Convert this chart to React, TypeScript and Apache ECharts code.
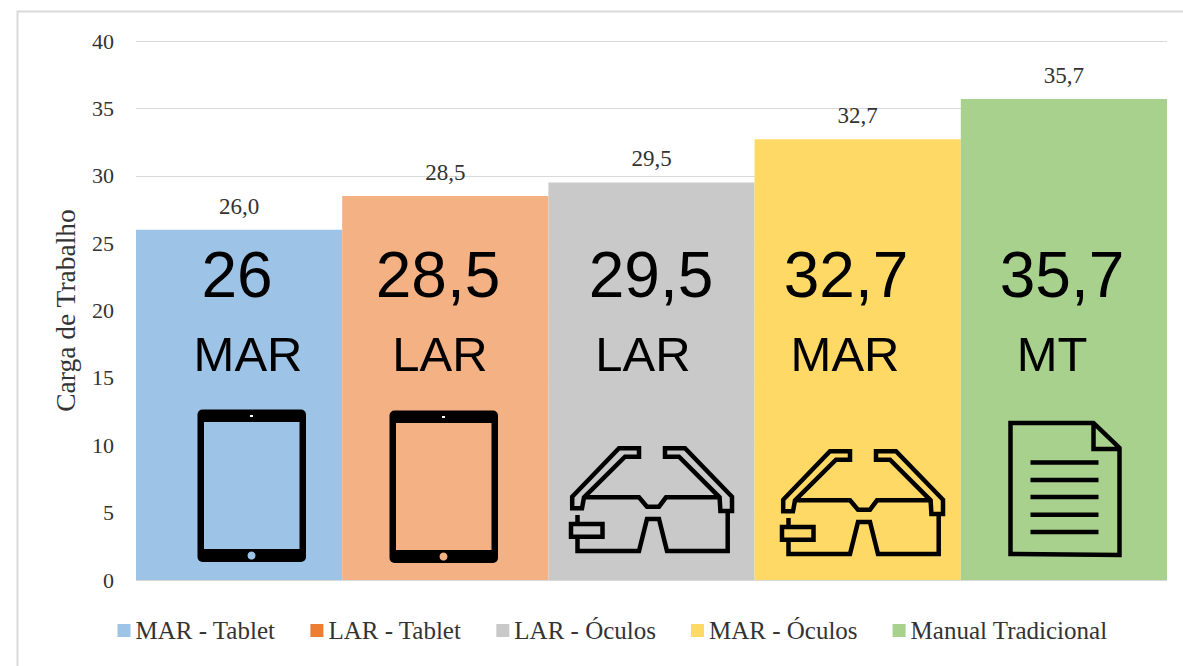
import React, { useEffect, useRef } from "react";
import * as echarts from "echarts";

const seriesNames = ["MAR - Tablet", "LAR - Tablet", "LAR - Óculos", "MAR - Óculos", "Manual Tradicional"];
const values = [26.0, 28.5, 29.5, 32.7, 35.7];
const bigLabels = ["26", "28,5", "29,5", "32,7", "35,7"];
const methodLabels = ["MAR", "LAR", "LAR", "MAR", "MT"];
const barColors = ["#9DC3E6", "#F4B183", "#C9C9C9", "#FFD966", "#A9D18E"];
const legendColors = ["#9DC3E6", "#ED7D31", "#C9C9C9", "#FFD966", "#A9D18E"];
const yTicks = { min: 0, max: 40, interval: 5 };

const GLASSES =
  "M8.5 70 L8.5 79 M8.5 92 L8.5 106 L70 106 L78 74 L90 74 L98 106 L158.7 106 L158.7 66.7 " +
  "M15 52.3 L70 52.3 L78 61.7 L90 61.7 L97 52.3 L150 52.3 " +
  "M3.2 51.7 L50 3.3 L70 3.3 L70 11.7 L56 11.7 L15 52.3 L13 63.3 L3.2 63.3 Z " +
  "M163 51.7 L116 3.3 L96 3.3 L96 11.7 L110 11.7 L150.6 52.3 L151.4 66 L163 66 Z " +
  "M2 79 L33.5 79 L33.5 91.7 L2 91.7 Z";
const DOCUMENT =
  "M0 0 L83 0 L109 25 L109 132 L0 131 Z M83 0 L83 26 L109 26 " +
  "M20 39.5 L88 39.5 M20 57 L88 57 M20 74 L88 74 M20 91.7 L88 91.7 M20 109 L88 109";
echarts.graphic.registerShape("glassesIcon", echarts.graphic.extendPath(GLASSES, {}));
echarts.graphic.registerShape("documentIcon", echarts.graphic.extendPath(DOCUMENT, {}));

const TOP = 100;
const tablet = (x: number, y: number, fill: string) => ({
  type: "group",
  x,
  y,
  silent: true,
  children: [
    { type: "rect", z: TOP, shape: { x: 0, y: 0, width: 108.5, height: 152.5, r: 5 }, style: { fill: "#000" } },
    { type: "rect", z: TOP + 1, shape: { x: 6.5, y: 12.5, width: 95.5, height: 127 }, style: { fill } },
    { type: "circle", z: TOP + 1, shape: { cx: 54, cy: 146, r: 4 }, style: { fill } },
    { type: "rect", z: TOP + 1, shape: { x: 52.5, y: 5.5, width: 3, height: 2 }, style: { fill: "#fff" } },
  ],
});
const stroked = (shape: string, x: number, y: number, lineWidth: number) => ({
  type: shape,
  z: TOP,
  x,
  y,
  silent: true,
  style: { fill: "none", stroke: "#000", lineWidth, lineJoin: "miter" },
});
const bigText = (text: string, x: number, y: number, size: number) => ({
  type: "text",
  z: TOP,
  x,
  y,
  silent: true,
  style: {
    text,
    fill: "#000",
    fontFamily: "Liberation Sans",
    fontSize: size,
    textAlign: "center",
    textVerticalAlign: "middle",
  },
});

export default function App() {
  const ref = useRef<HTMLDivElement>(null);
  useEffect(() => {
    const chart = echarts.init(ref.current!, undefined, { renderer: "svg" });
    const bigX = [237, 438, 651, 846, 1062];
    const methodX = [248, 440, 643, 845, 1052];
    chart.setOption({
      animation: false,
      backgroundColor: "#fff",
      grid: { left: 136, right: 16, top: 41, bottom: 86 },
      legend: {
        left: 112.5,
        top: 613,
        itemWidth: 13,
        itemHeight: 13,
        itemGap: 35,
        icon: "rect",
        data: seriesNames.map((name, i) => ({ name, itemStyle: { color: legendColors[i] } })),
        textStyle: { fontFamily: "Liberation Serif", fontSize: 25, color: "#333333" },
      },
      xAxis: {
        type: "category",
        data: seriesNames,
        axisLabel: { show: false },
        axisTick: { show: false },
        axisLine: { show: false },
      },
      yAxis: {
        type: "value",
        ...yTicks,
        name: "Carga de Trabalho",
        nameLocation: "middle",
        nameRotate: 90,
        nameGap: 57,
        nameTextStyle: { fontFamily: "Liberation Serif", fontSize: 27.5, color: "#333333" },
        axisLabel: { fontFamily: "Liberation Serif", fontSize: 22, color: "#333333", margin: 22 },
        axisLine: { show: false },
        axisTick: { show: false },
        splitLine: { lineStyle: { color: "#D9D9D9", width: 1 } },
      },
      series: seriesNames.map((name, i) => ({
        name,
        type: "bar",
        stack: "all",
        barWidth: "100%",
        data: values.map((v, j) => (j === i ? v : null)),
        itemStyle: { color: barColors[i] },
        label: {
          show: true,
          position: "top",
          distance: 12,
          fontFamily: "Liberation Serif",
          fontSize: 23,
          color: "#333333",
          formatter: (p: any) => p.value.toFixed(1).replace(".", ","),
        },
      })),
      graphic: {
        elements: [
          {
            type: "rect",
            z: -1,
            silent: true,
            shape: { x: 17.5, y: 11.5, width: 1170, height: 670 },
            style: { fill: "none", stroke: "#D9D9D9", lineWidth: 2 },
          },
          ...bigLabels.map((t, i) => bigText(t, bigX[i], 275, 64)),
          ...methodLabels.map((t, i) => bigText(t, methodX[i], 354, 49)),
          tablet(197.5, 409.5, barColors[0]),
          tablet(389.5, 410.5, barColors[1]),
          stroked("glassesIcon", 569, 445, 4.5),
          stroked("glassesIcon", 780, 448, 4.5),
          stroked("documentIcon", 1010.5, 423, 4.5),
        ],
      },
    });
    return () => chart.dispose();
  }, []);
  return <div ref={ref} style={{ position: "absolute", left: 0, top: 0, width: 1183, height: 666 }} />;
}
